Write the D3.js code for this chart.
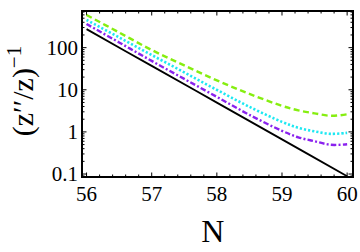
<!DOCTYPE html>
<html>
<head>
<meta charset="utf-8">
<script src="https://cdn.jsdelivr.net/npm/d3@7"></script>
<style>
  body { margin: 0; background: #fff; }
  svg { display: block; }
  text { font-family: "Liberation Serif", "DejaVu Serif", serif; fill: #000; }
</style>
</head>
<body>
<div id="chart"></div>
<script>
// values
const nValues = [56, 56.5, 57, 57.5, 58, 58.5, 59, 59.25, 59.5, 59.75, 60];
const greenValues  = [596, 229, 88, 37.8, 16.7, 8.0, 4.15, 3.25, 2.76, 2.41, 2.61];
const cyanValues   = [453, 175, 67, 25.8, 9.96, 3.94, 1.73, 1.25, 1.03, 0.90, 0.95];
const purpleValues = [365, 133, 48.4, 18.1, 6.79, 2.54, 1.06, 0.745, 0.60, 0.494, 0.508];
const blackN = [56, 57, 58, 59, 60];
const blackValues = [275, 36.9, 4.95, 0.664, 0.089];
const xTicks = [56, 57, 58, 59, 60];
const yTicks = [0.1, 1, 10, 100];

const width = 360, height = 252;
const margin = {left: 82, top: 11, right: 7, bottom: 75};
const w = width - margin.left - margin.right;
const h = height - margin.top - margin.bottom;

const x = d3.scaleLinear().domain([55.93, 60.09]).range([0, w]);
const y = d3.scaleLog().domain([0.085, 741]).range([h, 0]);

const svg = d3.select("#chart").append("svg")
  .attr("width", width)
  .attr("height", height);
const g = svg.append("g")
  .attr("transform", "translate(" + margin.left + "," + margin.top + ")");

// clip
svg.append("defs").append("clipPath").attr("id", "clip")
  .append("rect").attr("width", w).attr("height", h);

// minor ticks
const xMinor = d3.range(56, 60.01, 0.2).filter(v => Math.abs(v - Math.round(v)) > 0.01);
const yMinor = [];
[0.01, 0.1, 1, 10, 100].forEach(d => { for (let k = 2; k <= 9; k++) { const v = d * k; if (v > 0.085 && v < 741) yMinor.push(v); } });

const tickG = g.append("g").attr("stroke", "#000").attr("stroke-width", 1);
function hTicks(vals, len) {
  vals.forEach(v => {
    tickG.append("line").attr("x1", x(v)).attr("x2", x(v)).attr("y1", h).attr("y2", h - len);
    tickG.append("line").attr("x1", x(v)).attr("x2", x(v)).attr("y1", 0).attr("y2", len);
  });
}
function vTicks(vals, len) {
  vals.forEach(v => {
    tickG.append("line").attr("y1", y(v)).attr("y2", y(v)).attr("x1", 0).attr("x2", len);
    tickG.append("line").attr("y1", y(v)).attr("y2", y(v)).attr("x1", w).attr("x2", w - len);
  });
}
hTicks(xTicks, 4.5); hTicks(xMinor, 2.5);
vTicks(yTicks, 4.5); vTicks(yMinor, 2.5);

// series
const lines = [
  {n: nValues, v: greenValues, color: "#86ee10", dash: "6,3.5", sw: 2.4},
  {n: nValues, v: cyanValues, color: "#1ee8f2", dash: "2.2,2", sw: 2.6},
  {n: nValues, v: purpleValues, color: "#8a22ee", dash: "5.5,2.2,2,2.2", sw: 2.4},
  {n: blackN, v: blackValues, color: "#000", dash: null, sw: 1.8}
];
const line = d3.line()
  .x(d => x(d[0]))
  .y(d => y(d[1]))
  .curve(d3.curveCatmullRom);

g.append("g").attr("clip-path", "url(#clip)")
  .selectAll("path").data(lines).enter().append("path")
  .attr("d", s => line(s.n.map((n, i) => [n, s.v[i]])))
  .attr("fill", "none")
  .attr("stroke", s => s.color)
  .attr("stroke-width", s => s.sw)
  .attr("stroke-dasharray", s => s.dash);

// frame
g.append("rect").attr("width", w).attr("height", h)
  .attr("fill", "none").attr("stroke", "#000").attr("stroke-width", 2);

// tick labels
g.append("g").selectAll("text").data(xTicks).enter().append("text")
  .attr("x", d => x(d)).attr("y", h + 24)
  .attr("text-anchor", "middle").attr("font-size", 21)
  .text(d => d);
g.append("g").selectAll("text").data(yTicks).enter().append("text")
  .attr("x", -4).attr("y", d => y(d) + 7)
  .attr("text-anchor", "end").attr("font-size", 21)
  .text(d => d);

// axis titles
svg.append("text")
  .attr("x", margin.left + x(58) - 4).attr("y", 242)
  .attr("text-anchor", "middle").attr("font-size", 32)
  .text("N");

const yt = svg.append("text")
  .attr("transform", "translate(33,91) rotate(-90)")
  .attr("text-anchor", "middle").attr("font-size", 30);
yt.append("tspan").text("(z′′/z)");
yt.append("tspan").attr("dy", -12).attr("font-size", 21).text("−1");
</script>
</body>
</html>
